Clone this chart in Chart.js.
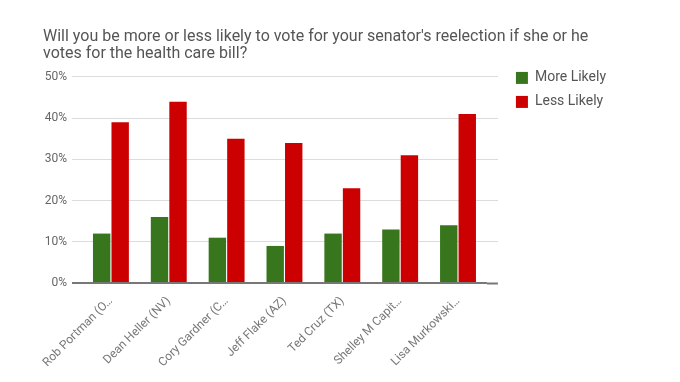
<!DOCTYPE html>
<html>
<head>
<meta charset="utf-8">
<script src="https://cdn.jsdelivr.net/npm/chart.js@4"></script>
<style>
  html, body { margin: 0; padding: 0; background: #fff; }
  #wrap { width: 680px; height: 382px; }
</style>
</head>
<body>
<div id="wrap"><canvas id="chart"></canvas></div>
<script>
// senators (labels truncated like the original)
const senators = [
  "Rob Portman (O\u2026",
  "Dean Heller (NV)",
  "Cory Gardner (C\u2026",
  "Jeff Flake (AZ)",
  "Ted Cruz (TX)",
  "Shelley M Capit\u2026",
  "Lisa Murkowski\u2026"
]
const moreLikely = [12, 16, 11, 9, 12, 13, 14]
const lessLikely = [39, 44, 35, 34, 23, 31, 41]
const yTicks = [0, 10, 20, 30, 40, 50]

// grid colour: dark baseline at 0, light elsewhere
const gridColor = (c) => (c.tick && c.tick.value === 0 ? "#777" : "#dcdcdc")
const gridWidth = (c) => (c.tick && c.tick.value === 0 ? 2 : 1)

// move the legend down next to the plot top, like the original
const legendShift = {
  id: "legendShift",
  afterLayout(chart) {
    const lg = chart.legend
    if (!lg) return
    const dy = chart.chartArea.top - 16 - lg.top
    lg.top += dy
    lg.bottom += dy
  }
}

const ctx = document.getElementById("chart").getContext("2d")

new Chart(ctx, {
  type: "bar",
  data: {
    labels: senators,
    datasets: [
      { label: "More Likely", data: moreLikely, backgroundColor: "#38761d", yAxisID: "y" },
      { label: "Less Likely", data: lessLikely, backgroundColor: "#cc0000", yAxisID: "y" }
    ]
  },
  plugins: [legendShift],
  options: {
    responsive: true,
    maintainAspectRatio: false,
    animation: false,
    layout: { padding: { left: 43, right: 64, top: 29, bottom: 9 } },
    datasets: { bar: { categoryPercentage: 0.64, barPercentage: 0.94 } },
    plugins: {
      title: {
        display: true,
        align: "start",
        text: [
          "Will you be more or less likely to vote for your senator's reelection if she or he",
          "votes for the health care bill?"
        ],
        color: "#555",
        font: { family: "Roboto", size: 16, weight: "normal", lineHeight: 1.06 },
        padding: { top: 0, bottom: 14 }
      },
      legend: {
        position: "right",
        align: "start",
        maxWidth: 160,
        labels: {
          color: "#555",
          font: { family: "Roboto", size: 14 },
          boxWidth: 12,
          boxHeight: 12,
          padding: 10
        }
      },
      tooltip: { enabled: false }
    },
    scales: {
      x: {
        grid: { display: false },
        border: { display: false },
        ticks: {
          color: "#777",
          font: { family: "Roboto", size: 12 },
          minRotation: 45,
          maxRotation: 45,
          autoSkip: false
        }
      },
      y: {
        min: 0,
        max: 50,
        afterBuildTicks: (axis) => { axis.ticks = yTicks.map((v) => ({ value: v })) },
        afterFit: (axis) => { axis.width = 39 },
        grid: { color: gridColor, lineWidth: gridWidth, tickLength: 10, tickColor: gridColor, tickWidth: gridWidth },
        border: { display: false },
        ticks: {
          color: "#666",
          font: { family: "Roboto", size: 12 },
          padding: 5,
          callback: (v) => v + "%"
        }
      },
      // right-hand stub so the grid lines run a bit past the last group
      y2: {
        position: "right",
        min: 0,
        max: 50,
        afterBuildTicks: (axis) => { axis.ticks = yTicks.map((v) => ({ value: v })) },
        grid: { drawOnChartArea: false, tickLength: 11, tickColor: gridColor, tickWidth: gridWidth },
        border: { display: false },
        ticks: { padding: 4, callback: () => "" }
      }
    }
  }
})
</script>
</body>
</html>
